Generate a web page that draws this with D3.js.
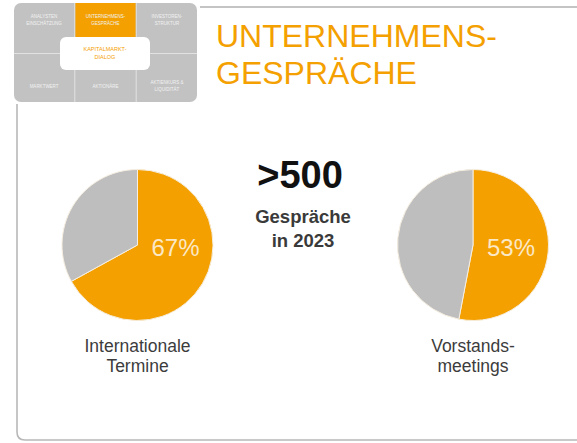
<!DOCTYPE html>
<html>
<head>
<meta charset="utf-8">
<script src="https://cdn.jsdelivr.net/npm/d3@7"></script>
<style>
  body { margin: 0; background: #fff; }
  svg { display: block; font-family: "Liberation Sans", Arial, sans-serif; }
</style>
</head>
<body>
<svg id="chart" width="577" height="443"></svg>
<script>
// values
var pieLabels = [["Internationale", "Termine"], ["Vorstands-", "meetings"]];
var pieShares = [67, 53];
var headline = ">500";
var subline = ["Gespräche", "in 2023"];
var titleLines = ["UNTERNEHMENS-", "GESPRÄCHE"];
// little navigation tiles in the corner
var navTop = [["ANALYSTEN", "EINSCHÄTZUNG"], ["UNTERNEHMENS-", "GESPRÄCHE"], ["INVESTOREN-", "STRUKTUR"]];
var navBottom = [["MARKTWERT"], ["AKTIONÄRE"], ["AKTIENKURS &", "LIQUIDITÄT"]];
var navCenter = ["KAPITALMARKT-", "DIALOG"];

var orange = "#f4a000", grey = "#bebebe";
var svg = d3.select("#chart");

// frame
svg.append("line").attr("x1", 200).attr("x2", 577).attr("y1", 7).attr("y2", 7)
  .attr("stroke", "#c4c4c4").attr("stroke-width", 2);
svg.append("path").attr("d", "M17,104 V432 Q17,440 25,440 H577")
  .attr("fill", "none").attr("stroke", "#b8b8b8").attr("stroke-width", 1.6);

// nav icon
var nav = svg.append("g");
var colX = d3.scaleBand().domain([0, 1, 2]).range([14, 197]).paddingInner(0.02);
nav.append("rect").attr("x", 14).attr("y", 3).attr("width", 183).attr("height", 99)
  .attr("rx", 7).attr("fill", "#c2c2c2");
nav.append("line").attr("x1", 14).attr("x2", 197).attr("y1", 53.5).attr("y2", 53.5)
  .attr("stroke", "#e2e2e2").attr("stroke-width", 1);
[0, 1].forEach(function(i) {
  var x = colX(i) + colX.bandwidth() + colX.step() * 0.01;
  nav.append("line").attr("x1", x).attr("x2", x).attr("y1", 3).attr("y2", 102)
    .attr("stroke", "#e2e2e2").attr("stroke-width", 1);
});
nav.append("rect").attr("x", colX(1)).attr("y", 3).attr("width", colX.bandwidth())
  .attr("height", 34).attr("fill", orange);
nav.append("rect").attr("x", 60).attr("y", 37).attr("width", 90).attr("height", 33)
  .attr("rx", 6).attr("fill", "#fff");

function tinyText(lines, cx, cy, color, size) {
  var t = nav.append("text").attr("text-anchor", "middle").attr("fill", color)
    .attr("font-size", size);
  lines.forEach(function(s, i) {
    t.append("tspan").attr("x", cx).attr("y", cy + (i - (lines.length - 1) / 2) * (size + 2) + size * 0.35).text(s);
  });
}
navTop.forEach(function(l, i) {
  tinyText(l, colX(i) + colX.bandwidth() / 2, 20, "#f2f2f2", 4.5);
});
navBottom.forEach(function(l, i) {
  tinyText(l, colX(i) + colX.bandwidth() / 2, 86, "#f2f2f2", 4.5);
});
tinyText(navCenter, 105, 53, orange, 5.5);

// title
var title = svg.append("text").attr("fill", orange).attr("font-size", 32);
titleLines.forEach(function(s, i) {
  title.append("tspan").attr("x", 216).attr("y", 47 + i * 37).text(s);
});

// pies
var pie = d3.pie().sort(null);
var arc = d3.arc().innerRadius(0).outerRadius(75.5);
var pieX = d3.scalePoint().domain(d3.range(pieShares.length)).range([137.5, 473]);

pieShares.forEach(function(v, i) {
  var g = svg.append("g").attr("transform", "translate(" + pieX(i) + ",245)");
  g.selectAll("path").data(pie([v, 100 - v])).enter().append("path")
    .attr("d", arc)
    .attr("fill", function(d, j) { return j === 0 ? orange : grey; })
    .attr("stroke", "#f6eee0").attr("stroke-width", 1);
  g.append("text").attr("x", 38).attr("y", 10.5).attr("text-anchor", "middle")
    .attr("font-size", 24).attr("fill", "#fbe8c6").text(v + "%");
  var lab = svg.append("text").attr("text-anchor", "middle").attr("font-size", 17.5)
    .attr("fill", "#3c3c3c");
  pieLabels[i].forEach(function(s, k) {
    lab.append("tspan").attr("x", pieX(i)).attr("y", 352 + k * 20).text(s);
  });
});

// center figure
svg.append("text").attr("x", 300).attr("y", 188).attr("text-anchor", "middle")
  .attr("font-size", 38).attr("font-weight", "bold").attr("fill", "#111").text(headline);
var sub = svg.append("text").attr("text-anchor", "middle").attr("font-size", 18.5)
  .attr("font-weight", "bold").attr("fill", "#3a3a3a");
subline.forEach(function(s, k) {
  sub.append("tspan").attr("x", 303).attr("y", 223 + k * 24).text(s);
});
</script>
</body>
</html>
